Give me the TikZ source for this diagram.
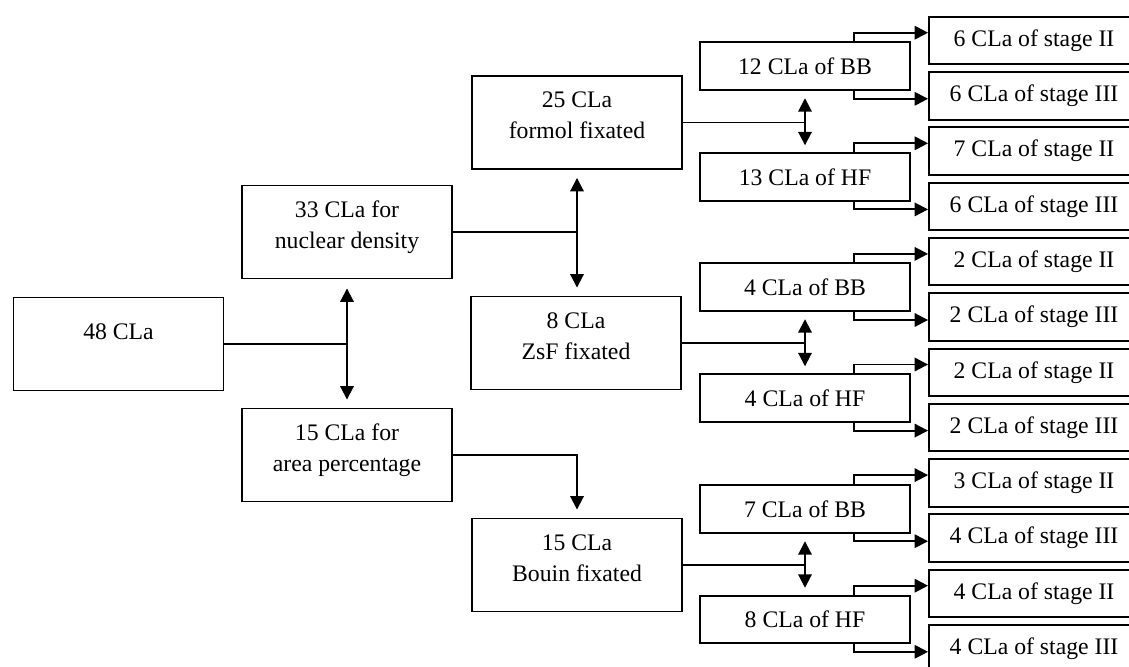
\documentclass[tikz,border=0pt]{standalone}
\usepackage{fontspec}
\setmainfont{Liberation Serif}
\usetikzlibrary{arrows.meta, positioning, calc}
\newcommand{\sink}[1]{\rule[-#1]{0pt}{#1}}

\begin{document}
\begin{tikzpicture}[x=0.02cm, y=-0.02cm, >={Triangle[length=7.6pt, width=7.6pt]}, line width=1.1pt,
    box/.style={draw, minimum width=4.2cm, minimum height=0.95cm, inner sep=0pt, font=\fontsize{13.5}{17.6}\selectfont},
    tallbox/.style={box, minimum height=1.86cm, align=center}]
    \useasboundingbox (0,0) rectangle (1129,666);

    % First split
    \node[tallbox] (all) at (118.5,344) {48 CLa\sink{0.5cm}};
    \node[tallbox] (dens) at (347,232) {33 CLa for\\nuclear density\sink{0.28cm}};
    \node[tallbox] (area) at (347,455) {15 CLa for\\area percentage\sink{0.28cm}};

    % Fixation
    \node[tallbox] (formol) at (577,122.5) {25 CLa\\formol fixated\sink{0.28cm}};
    \node[tallbox] (zsf) at (576,343) {8 CLa\\ZsF fixated\sink{0.28cm}};
    \node[tallbox] (bouin) at (577,565) {15 CLa\\Bouin fixated\sink{0.28cm}};

    % BB / HF
    \node[box] (bb1) at (805,66) {12 CLa of BB};
    \node[box] (hf1) at (805,177) {13 CLa of HF};
    \node[box] (bb2) at (805,287) {4 CLa of BB};
    \node[box] (hf2) at (805,398) {4 CLa of HF};
    \node[box] (bb3) at (805,509) {7 CLa of BB};
    \node[box] (hf3) at (805,619.5) {8 CLa of HF};

    % Stages
    \foreach \num/\stg [count=\i from 0] in {6/II, 6/III, 7/II, 6/III, 2/II, 2/III, 2/II, 2/III, 3/II, 4/III, 4/II, 4/III}
      \node[box] (st\i) at (1034, 40.5+55.3*\i) {\num{} CLa of stage \stg};

    % Connectors
    \draw (all.east) -- (all.east -| dens.south);
    \draw[<->, shorten <=0.18cm, shorten >=0.16cm] (dens.south) -- (area.north);
    \draw (dens.east) -- (dens.east -| formol.south);
    \draw[<->, shorten <=0.16cm, shorten >=0.16cm] (formol.south) -- (formol.south |- zsf.north);
    \draw[->, shorten >=0.16cm] (area.east) -| (bouin.north);

    \draw (formol.east) -- (formol.east -| bb1.south);
    \draw[<->, shorten <=0.15cm, shorten >=0.14cm] (bb1.south) -- (hf1.north);
    \draw (zsf.east) -- (zsf.east -| bb2.south);
    \draw[<->, shorten <=0.15cm, shorten >=0.14cm] (bb2.south) -- (hf2.north);
    \draw (bouin.east) -- (bouin.east -| bb3.south);
    \draw[<->, shorten <=0.15cm, shorten >=0.14cm] (bb3.south) -- (hf3.north);

    \foreach \m/\up/\dn in {bb1/st0/st1, hf1/st2/st3, bb2/st4/st5, hf2/st6/st7, bb3/st8/st9, hf3/st10/st11} {
      \draw[->] ($(\m.north east)+(-57,0)$) |- ($(\up.west)+(0,-7.8)$);
      \draw[->] ($(\m.south east)+(-57,0)$) |- ($(\dn.west)+(0,3)$);
    }
\end{tikzpicture}
\end{document}
